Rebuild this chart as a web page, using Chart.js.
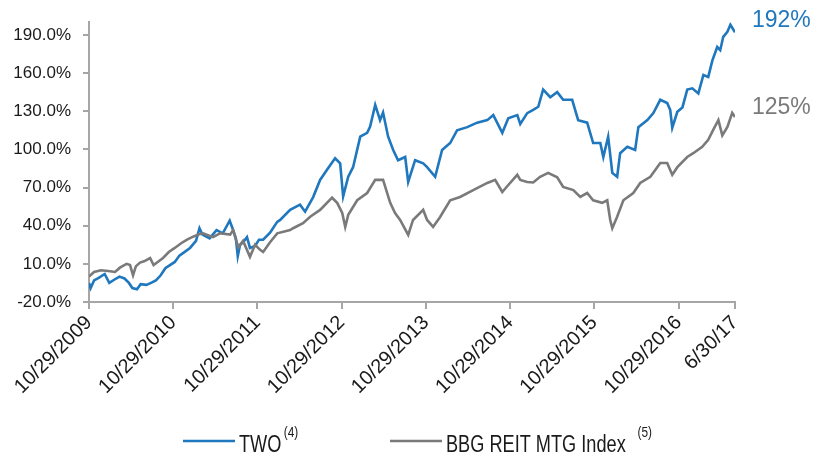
<!DOCTYPE html>
<html>
<head>
<meta charset="utf-8">
<script src="https://cdn.jsdelivr.net/npm/chart.js@4/dist/chart.umd.min.js"></script>
<style>
html,body{margin:0;padding:0;background:#fff;}
#wrap{position:relative;width:826px;height:453px;}
</style>
</head>
<body>
<div id="wrap"><canvas id="c" width="826" height="453"></canvas></div>
<script>
// ---- data ----
const seriesNames = ['TWO', 'BBG REIT MTG Index'];
const seriesNotes = ['(4)', '(5)'];
const endLabels = ['192%', '125%'];

const twoDates = ['2009-10-29','2009-11-05','2009-11-20','2009-12-10','2010-01-05','2010-01-25','2010-02-15','2010-03-10','2010-04-01','2010-04-20','2010-05-05','2010-05-25','2010-06-10','2010-07-05','2010-07-25','2010-08-15','2010-09-05','2010-09-25','2010-10-15','2010-11-05','2010-11-25','2010-12-15','2011-01-10','2011-02-05','2011-02-20','2011-03-05','2011-04-05','2011-05-05','2011-06-01','2011-07-01','2011-07-15','2011-07-28','2011-08-05','2011-08-15','2011-08-28','2011-09-14','2011-09-27','2011-10-19','2011-11-05','2011-11-23','2011-12-23','2012-01-23','2012-02-05','2012-03-19','2012-05-01','2012-05-23','2012-06-27','2012-07-27','2012-08-26','2012-09-30','2012-10-22','2012-11-04','2012-11-26','2012-12-17','2013-01-17','2013-02-16','2013-03-01','2013-03-23','2013-04-13','2013-04-26','2013-05-18','2013-06-09','2013-06-30','2013-07-31','2013-08-13','2013-09-12','2013-10-17','2013-11-03','2013-12-08','2014-01-07','2014-02-11','2014-03-13','2014-04-26','2014-06-08','2014-07-22','2014-08-17','2014-09-25','2014-10-21','2014-11-29','2014-12-12','2015-01-11','2015-02-06','2015-02-28','2015-03-21','2015-04-21','2015-05-21','2015-06-16','2015-07-25','2015-08-20','2015-09-28','2015-10-24','2015-11-24','2015-12-07','2015-12-28','2016-01-15','2016-02-05','2016-02-18','2016-03-20','2016-04-23','2016-05-07','2016-06-15','2016-07-11','2016-08-10','2016-09-09','2016-09-22','2016-10-01','2016-10-23','2016-11-14','2016-12-05','2016-12-27','2017-01-22','2017-02-13','2017-03-06','2017-03-24','2017-04-14','2017-04-27','2017-05-10','2017-05-28','2017-06-10','2017-06-30'];
const twoValues = [-5,-9,-3,-1,2,-5,-2.5,0,-1.5,-5,-9,-10,-6,-6.5,-5,-3,1,6.5,9,11.5,16.5,19,22.5,28,38,33,30,36.5,34,44,37,30,16,25,27,31,22.5,24,29,29,34.5,43,44.5,52.5,56.5,51,62.5,76,84,93,89,63,78.5,86,110,113,118,135,123,129,110,99.5,91.5,94,74.5,91.5,89,86,78.5,99.5,105,115,117.5,121,123,127,113,124.5,127,120,128.5,131,133.5,147,141,145,139,139,123,121,105,105,94,110,81.5,78.5,97,102,99.5,117.5,123,128.5,139,136.5,131,117,129.5,133,147,148,144,158.5,157,170,180.5,178,188.5,192.5,198,192];

const bbgDates = ['2009-10-29','2009-11-20','2009-12-20','2010-01-20','2010-02-19','2010-03-12','2010-04-10','2010-04-25','2010-05-08','2010-05-20','2010-06-07','2010-06-25','2010-07-21','2010-08-05','2010-08-20','2010-09-15','2010-10-10','2010-11-05','2010-12-01','2010-12-28','2011-01-19','2011-02-15','2011-03-08','2011-04-20','2011-05-20','2011-07-03','2011-07-16','2011-07-28','2011-08-08','2011-08-28','2011-09-27','2011-10-19','2011-11-10','2011-11-23','2011-12-23','2012-01-23','2012-03-19','2012-04-01','2012-05-14','2012-06-14','2012-07-27','2012-09-17','2012-10-09','2012-10-31','2012-11-13','2012-11-26','2013-01-04','2013-02-16','2013-03-23','2013-04-26','2013-05-27','2013-06-17','2013-07-09','2013-08-13','2013-09-03','2013-10-17','2013-11-03','2013-11-29','2013-12-30','2014-02-11','2014-03-26','2014-05-22','2014-07-22','2014-08-25','2014-09-25','2014-10-21','2014-11-29','2014-12-12','2015-01-11','2015-02-06','2015-03-08','2015-04-12','2015-05-21','2015-06-16','2015-07-30','2015-08-29','2015-09-28','2015-10-24','2015-12-02','2015-12-24','2016-01-06','2016-01-15','2016-02-05','2016-03-03','2016-04-15','2016-05-15','2016-06-28','2016-08-10','2016-09-09','2016-10-01','2016-10-23','2016-12-05','2016-12-31','2017-02-08','2017-03-06','2017-03-28','2017-04-19','2017-05-06','2017-05-28','2017-06-18','2017-06-30'];
const bbgValues = [0,3.6,5,4.4,3.6,7,10,9,1,8,11,12,14.6,9,11,14.6,19.3,22.5,26,29,31,33,34,31,34,33,36.6,29,23,28,15.5,25,21,19.3,27,34,36.6,38,42,47,52.4,62,58,50,39,48.5,60,65.7,76,76,58,50,44.5,32.7,44.5,52.4,44.5,39,47,60,62.6,68,73.6,76,66.5,72,80,76,74.4,74,78.4,81.5,78,70.5,68,62.6,65.7,60,58,60,44.5,38,47,60,65.7,73.6,78.4,89.3,89.3,80,86,94,97,102,107.5,115.5,123,111,117.7,128.7,125.5];

const xTickDates = ['2009-10-29','2010-10-29','2011-10-29','2012-10-29','2013-10-29','2014-10-29','2015-10-29','2016-10-29','2017-06-30'];
const xTickLabels = ['10/29/2009','10/29/2010','10/29/2011','10/29/2012','10/29/2013','10/29/2014','10/29/2015','10/29/2016','6/30/17'];
const yTickValues = [-20,10,40,70,100,130,160,190];

// ---- helpers ----
const DAY = 86400000;
const t0 = Date.parse(xTickDates[0] + 'T00:00:00Z');
const toX = s => (Date.parse(s + 'T00:00:00Z') - t0) / DAY;
const twoPts = twoDates.map((d, i) => ({x: toX(d), y: twoValues[i]}));
const bbgPts = bbgDates.map((d, i) => ({x: toX(d), y: bbgValues[i]}));
const tickXs = xTickDates.map(toX);

const BLUE = '#1F77BE';
const GRAY = '#7A7A7A';
const AXIS = '#A6A6A6';
const TXT = '#1a1a1a';
const FONT = "'Liberation Sans', Arial, sans-serif";

const overlay = {
  id: 'overlay',
  afterDraw(chart) {
    const ctx = chart.ctx;
    ctx.save();
    // end labels
    ctx.font = "23px " + FONT;
    ctx.textAlign = 'left';
    ctx.textBaseline = 'alphabetic';
    ctx.fillStyle = BLUE;
    ctx.fillText(endLabels[0], 752, 27);
    ctx.fillStyle = GRAY;
    ctx.fillText(endLabels[1], 752, 114);
    // legend
    const items = [
      {x: 183, color: BLUE, name: seriesNames[0], note: seriesNotes[0], gap: 3},
      {x: 390, color: GRAY, name: seriesNames[1], note: seriesNotes[1], gap: 15}
    ];
    const ly = 441, base = 452;
    items.forEach(it => {
      ctx.strokeStyle = it.color;
      ctx.lineWidth = 2.5;
      ctx.beginPath();
      ctx.moveTo(it.x, ly);
      ctx.lineTo(it.x + 52, ly);
      ctx.stroke();
      ctx.fillStyle = TXT;
      ctx.save();
      ctx.translate(it.x + 56, base);
      ctx.scale(0.79, 1);
      ctx.font = "23px " + FONT;
      ctx.textAlign = 'left';
      ctx.fillText(it.name, 0, 0);
      const w = ctx.measureText(it.name).width;
      ctx.font = "15px " + FONT;
      ctx.fillText(it.note, w + it.gap, -15);
      ctx.restore();
    });
    ctx.restore();
  }
};

new Chart(document.getElementById('c'), {
  type: 'line',
  data: {
    datasets: [
      {label: seriesNames[1], data: bbgPts, borderColor: GRAY, borderWidth: 2.6, pointRadius: 0, tension: 0, fill: false},
      {label: seriesNames[0], data: twoPts, borderColor: BLUE, borderWidth: 2.6, pointRadius: 0, tension: 0, fill: false}
    ]
  },
  options: {
    responsive: false,
    animation: false,
    events: [],
    layout: {padding: {left: 0, right: 91, top: 22, bottom: 0}, autoPadding: false},
    plugins: {legend: {display: false}, tooltip: {enabled: false}},
    scales: {
      x: {
        type: 'linear',
        min: tickXs[0],
        max: tickXs[tickXs.length - 1],
        afterBuildTicks: s => { s.ticks = tickXs.map(v => ({value: v})); },
        afterFit: s => { s.height = 151; },
        grid: {drawOnChartArea: false, drawTicks: true, tickLength: 7, color: AXIS, lineWidth: 2},
        border: {display: true, color: AXIS, width: 2},
        ticks: {
          autoSkip: false,
          minRotation: 45, maxRotation: 45,
          padding: 2,
          color: TXT,
          font: {family: FONT, size: 20},
          callback: v => { const i = tickXs.indexOf(v); return i >= 0 ? xTickLabels[i] : ''; }
        }
      },
      y: {
        min: -20,
        max: 200,
        afterBuildTicks: s => { s.ticks = yTickValues.map(v => ({value: v})); },
        afterFit: s => { s.width = 89; },
        grid: {drawOnChartArea: false, drawTicks: true, tickLength: 6, color: AXIS, lineWidth: 2},
        border: {display: true, color: AXIS, width: 2},
        ticks: {
          padding: 12,
          color: TXT,
          font: {family: FONT, size: 17},
          callback: v => v.toFixed(1) + '%'
        }
      }
    }
  },
  plugins: [overlay]
});
</script>
</body>
</html>
